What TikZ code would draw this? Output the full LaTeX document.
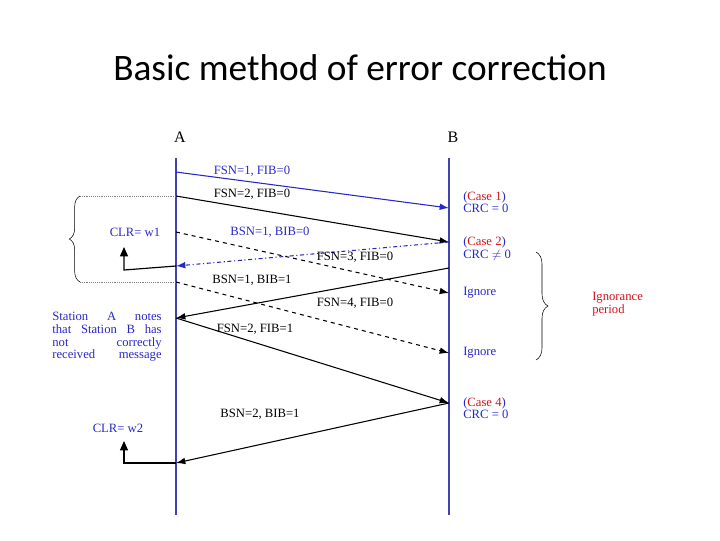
\documentclass[tikz,border=0pt]{standalone}
\usepackage{fontspec}
\usepackage{amssymb}
\setmainfont{Liberation Serif}
\newfontfamily\titlefont{Carlito}
\usetikzlibrary{arrows.meta,decorations.pathreplacing}
\definecolor{bl}{RGB}{40,40,200}
\definecolor{rd}{RGB}{210,20,30}
\tikzset{
 msg/.style={line width=0.8pt,-{Latex[length=7pt,width=5pt]}},
 lab/.style={font=\fontsize{9.5}{10}\selectfont,inner sep=0pt},
 rt/.style={font=\fontsize{9.5}{9.5}\selectfont,inner sep=0pt,anchor=west,align=left,text=bl},
 thick arrow/.style={line width=0.9pt,-{Triangle[length=7pt,width=6pt]}}
}
\begin{document}
\begin{tikzpicture}[x=0.75pt,y=-0.75pt]
\useasboundingbox (0,0) rectangle (720,540);
\node[font=\titlefont\fontsize{28}{30}\selectfont] (title) at (360,68) {Basic method of error correction};
\node[font=\large] (A) at (180,137) {A};
\node[font=\large] (B) at (453,137) {B};
\coordinate (a0) at (176,158); \coordinate (a1) at (176,515);
\coordinate (b0) at (449,158); \coordinate (b1) at (449,515);
\draw[bl!70!gray,line width=0.9pt] (a0)--(a1);
\draw[bl!70!gray,line width=0.9pt] (b0)--(b1);
\coordinate (A1) at (176,172); \coordinate (B1) at (449,208);
\coordinate (A2) at (176,196); \coordinate (B2) at (449,242);
\coordinate (A3) at (176,266);
\coordinate (A4) at (176,232); \coordinate (B4) at (449,293);
\coordinate (B5) at (449,268); \coordinate (A5) at (176,318);
\coordinate (A6) at (176,282); \coordinate (B6) at (449,353);
\coordinate (B7) at (449,403);
\coordinate (A8) at (176,463);
\draw[msg,bl] (A1)--(B1);
\draw[msg] (A2)--(B2);
\draw[msg,bl,dash dot] (B2)--(A3);
\draw[msg,dashed] (A4)--(B4);
\draw[msg] (B5)--(A5);
\draw[msg,dashed] (A6)--(B6);
\draw[msg] (A5)--(B7);
\draw[msg] (B7)--(A8);
\node[lab,text=bl] (l1) at (252,171) {FSN=1, FIB=0};
\node[lab] (l2) at (252,194) {FSN=2, FIB=0};
\node[lab,text=bl] (l3) at (270,232) {BSN=1, BIB=0};
\node[lab] (l4) at (355,257) {FSN=3, FIB=0};
\node[lab] (l5) at (252,280) {BSN=1, BIB=1};
\node[lab] (l6) at (355,303) {FSN=4, FIB=0};
\node[lab] (l7) at (255,329) {FSN=2, FIB=1};
\node[lab] (l8) at (260,414) {BSN=2, BIB=1};
\node[lab,text=bl] (w1) at (135,232) {CLR= w1};
\coordinate (c1) at (124,270); \coordinate (c1t) at (124,247);
\draw[thick arrow] (A3)--(c1)--(c1t);
\coordinate (d1) at (80,196); \coordinate (d2) at (80,282);
\draw[densely dotted,gray] (d1)--(A2);
\draw[densely dotted,gray] (d2)--(176,282);
\draw[decorate,decoration={brace,amplitude=8pt}] (d2)--(d1);
\node[inner sep=0pt,text=bl,font=\fontsize{9.5}{9.5}\selectfont,align=left] (st) at (107,337)
 {\makebox[82pt][s]{Station\hfill A\hfill notes}\\
  \makebox[82pt][s]{that Station B has}\\
  \makebox[82pt][s]{not\hfill correctly}\\
  \makebox[82pt][s]{received message}};
\node[lab,text=bl] (w2) at (118,428) {CLR= w2};
\coordinate (c2) at (124,463); \coordinate (c2t) at (124,441);
\draw[thick arrow] (A8)--(c2)--(c2t);
\node[rt] (r1) at (463,202) {(\textcolor{rd}{Case 1})\\CRC = 0};
\node[rt] (r2) at (463,249) {(\textcolor{rd}{Case 2})\\CRC $\neq$ 0};
\node[rt] (r3) at (463,293) {Ignore};
\node[rt] (r4) at (463,353) {Ignore};
\node[rt] (r5) at (463,408) {(\textcolor{rd}{Case 4})\\CRC = 0};
\coordinate (e1) at (536,252); \coordinate (e2) at (536,360);
\draw[decorate,decoration={brace,amplitude=9pt}] (e1)--(e2);
\node[rt,text=rd] (ig) at (592,304) {Ignorance\\period};
\end{tikzpicture}
\end{document}
